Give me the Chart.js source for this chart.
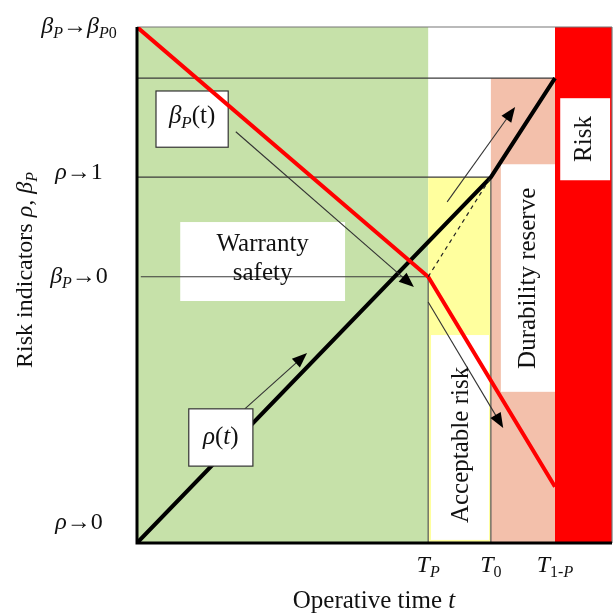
<!DOCTYPE html>
<html>
<head>
<meta charset="utf-8">
<script src="https://cdn.jsdelivr.net/npm/chart.js@4.4.0/dist/chart.umd.min.js"></script>
<style>
  html, body { margin: 0; padding: 0; background: #fff; }
  #wrap { width: 613px; height: 614px; }
</style>
</head>
<body>
<div id="wrap"><canvas id="chart" width="613" height="614"></canvas></div>
<script>
// time marks (x) and indicator levels (y), in axis units 0..100
const timeMarks = [61.3, 74.5, 88.0];          // T_P, T_0, T_1-P
const levelMarks = [0, 51.6, 70.9, 100];       // rho->0, beta->0, rho->1, beta->beta0
const reserveLevel = 90.1;

// rho(t) curve
const rhoTime = [0, 74.5, 88.0];
const rhoValue = [0, 70.9, 90.1];

// beta_P(t) curve
const betaTime = [0, 61.3, 88.0];
const betaValue = [100, 51.6, 10.9];

// dashed continuation of the beta/rho crossing
const dashTime = [61.3, 74.5];
const dashValue = [51.6, 70.9];

const SERIF = '"Liberation Serif", "DejaVu Serif", serif';

// text pieces: [text, style]  style: '' upright, 'i' italic, 's' sub, 'si' sub italic
function richWidth(ctx, parts, size) {
    let w = 0;
    parts.forEach(p => {
        const sub = p[1].indexOf('s') >= 0;
        const it = p[1].indexOf('i') >= 0;
        ctx.font = (it ? 'italic ' : '') + Math.round(sub ? size * 0.68 : size) + 'px ' + SERIF;
        w += ctx.measureText(p[0]).width;
    });
    return w;
}

function drawRich(ctx, parts, x, y, size, align) {
    const w = richWidth(ctx, parts, size);
    let cx = align === 'center' ? x - w / 2 : (align === 'right' ? x - w : x);
    ctx.textBaseline = 'middle';
    ctx.textAlign = 'left';
    ctx.fillStyle = '#111';
    parts.forEach(p => {
        const sub = p[1].indexOf('s') >= 0;
        const it = p[1].indexOf('i') >= 0;
        ctx.font = (it ? 'italic ' : '') + Math.round(sub ? size * 0.68 : size) + 'px ' + SERIF;
        ctx.fillText(p[0], cx, sub ? y + size * 0.3 : y);
        cx += ctx.measureText(p[0]).width;
    });
}

const yLabels = [
    [['ρ', 'i'], ['→0', '']],
    [['β', 'i'], ['P', 'si'], ['→0', '']],
    [['ρ', 'i'], ['→1', '']],
    [['β', 'i'], ['P', 'si'], ['→', ''], ['β', 'i'], ['P', 'si'], ['0', 's']]
];
const yLabelShift = [-20, 0, -4, 0];
const xLabels = [
    [['T', 'i'], ['P', 'si']],
    [['T', 'i'], ['0', 's']],
    [['T', 'i'], ['1-', 's'], ['P', 'si']]
];

const schemePlugin = {
    id: 'scheme',
    beforeDatasetsDraw(chart) {
        const ctx = chart.ctx;
        const xs = chart.scales.x, ys = chart.scales.y;
        const X = v => xs.getPixelForValue(v);
        const Y = v => ys.getPixelForValue(v);
        const [tP, t0, t1] = timeMarks;
        const [, bZero, rOne, top] = levelMarks;

        function rect(x1, x2, y1, y2, color) {
            ctx.fillStyle = color;
            ctx.fillRect(X(x1), Y(y2), X(x2) - X(x1), Y(y1) - Y(y2));
        }
        function line(x1, y1, x2, y2, color, w) {
            ctx.strokeStyle = color;
            ctx.lineWidth = w;
            ctx.beginPath();
            ctx.moveTo(X(x1), Y(y1));
            ctx.lineTo(X(x2), Y(y2));
            ctx.stroke();
        }

        ctx.save();
        // zones
        rect(0, tP, 0, top, '#c6e1a9');
        rect(tP, t0, 0, rOne, '#ffff9e');
        rect(t0, t1, 0, reserveLevel, '#f3c0ab');
        rect(t1, 100, 0, top, '#ff0000');

        // white label panels
        rect(61.9, 74.1, 0.6, 40.3, '#ffffff');
        rect(76.6, t1, 29.3, 73.4, '#ffffff');
        rect(89.1, 99.6, 70.3, 86.2, '#ffffff');
        rect(9.1, 43.8, 46.9, 62.2, '#ffffff');

        // reference lines
        line(0, reserveLevel, t1, reserveLevel, '#3a3a3a', 1.2);
        line(0, rOne, t0, rOne, '#3a3a3a', 1.2);
        line(0.8, bZero, tP, bZero, '#3a3a3a', 1.2);
        line(tP, 0, tP, bZero, '#555', 1.2);
        line(t0, 0, t0, rOne, '#555', 1.2);
        line(0, top, 100, top, '#777', 1.2);
        line(100, 0, 100, top, '#777', 1.2);

        // beta_P(t) label box (below the red line)
        ctx.fillStyle = '#fff';
        ctx.fillRect(X(4.0), Y(87.6), X(19.2) - X(4.0), Y(76.7) - Y(87.6));
        ctx.strokeStyle = '#333';
        ctx.lineWidth = 1.2;
        ctx.strokeRect(X(4.0), Y(87.6), X(19.2) - X(4.0), Y(76.7) - Y(87.6));
        ctx.restore();
    },
    afterDatasetsDraw(chart) {
        const ctx = chart.ctx;
        const xs = chart.scales.x, ys = chart.scales.y;
        const X = v => xs.getPixelForValue(v);
        const Y = v => ys.getPixelForValue(v);
        const area = chart.chartArea;

        function arrow(x1, y1, x2, y2) {
            const ax = X(x1), ay = Y(y1), bx = X(x2), by = Y(y2);
            const ang = Math.atan2(by - ay, bx - ax);
            const L = 15, H = 6;
            ctx.strokeStyle = '#333';
            ctx.lineWidth = 1.1;
            ctx.beginPath();
            ctx.moveTo(ax, ay);
            ctx.lineTo(bx - L * 0.8 * Math.cos(ang), by - L * 0.8 * Math.sin(ang));
            ctx.stroke();
            ctx.fillStyle = '#000';
            ctx.beginPath();
            ctx.moveTo(bx, by);
            ctx.lineTo(bx - L * Math.cos(ang) + H * Math.sin(ang), by - L * Math.sin(ang) - H * Math.cos(ang));
            ctx.lineTo(bx - L * Math.cos(ang) - H * Math.sin(ang), by - L * Math.sin(ang) + H * Math.cos(ang));
            ctx.closePath();
            ctx.fill();
        }

        ctx.save();
        arrow(22.7, 26.0, 35.8, 36.8);
        arrow(20.8, 79.7, 58.3, 49.6);
        arrow(65.3, 66.1, 79.6, 84.5);
        arrow(61.3, 46.7, 77.1, 22.3);

        // rho(t) label box (above the black line)
        ctx.fillStyle = '#fff';
        ctx.fillRect(X(10.9), Y(26.0), X(24.4) - X(10.9), Y(14.9) - Y(26.0));
        ctx.strokeStyle = '#333';
        ctx.lineWidth = 1.2;
        ctx.strokeRect(X(10.9), Y(26.0), X(24.4) - X(10.9), Y(14.9) - Y(26.0));

        // axes
        ctx.strokeStyle = '#000';
        ctx.lineWidth = 3;
        ctx.beginPath();
        ctx.moveTo(area.left, area.top);
        ctx.lineTo(area.left, area.bottom);
        ctx.lineTo(area.right, area.bottom);
        ctx.stroke();

        // labels inside the plot
        drawRich(ctx, [['β', 'i'], ['P', 'si'], ['(t)', '']], (X(4.0) + X(19.2)) / 2, (Y(87.6) + Y(76.7)) / 2 - 3, 25, 'center');
        drawRich(ctx, [['ρ', 'i'], ['(', ''], ['t', 'i'], [')', '']], (X(10.9) + X(24.4)) / 2, (Y(26.0) + Y(14.9)) / 2, 25, 'center');
        drawRich(ctx, [['Warranty', '']], (X(9.1) + X(43.8)) / 2, Y(57.9), 25, 'center');
        drawRich(ctx, [['safety', '']], (X(9.1) + X(43.8)) / 2, Y(52.3), 25, 'center');

        function vtext(text, cx, cy, size) {
            ctx.save();
            ctx.translate(cx, cy);
            ctx.rotate(-Math.PI / 2);
            drawRich(ctx, text, 0, 0, size, 'center');
            ctx.restore();
        }
        vtext([['Acceptable risk', '']], X(68.2), Y(19.0), 25);
        vtext([['Durability reserve', '']], X(82.4), Y(51.3), 25);
        vtext([['Risk', '']], X(94.3), Y(78.3), 25);

        // tick labels
        levelMarks.forEach((v, i) => {
            drawRich(ctx, yLabels[i], 79, Y(v) + yLabelShift[i], 24, 'center');
        });
        timeMarks.forEach((v, i) => {
            drawRich(ctx, xLabels[i], X(v), 566, 24, 'center');
        });

        // axis titles
        drawRich(ctx, [['Operative time ', ''], ['t', 'i']], 374, 601, 25, 'center');
        ctx.save();
        ctx.translate(26, 270);
        ctx.rotate(-Math.PI / 2);
        drawRich(ctx, [['Risk indicators ', ''], ['ρ', 'i'], [', ', ''], ['β', 'i'], ['P', 'si']], 0, 0, 24, 'center');
        ctx.restore();
        ctx.restore();
    }
};

const toPoints = (xs, ys) => xs.map((x, i) => ({ x: x, y: ys[i] }));

new Chart(document.getElementById('chart'), {
    type: 'scatter',
    data: {
        datasets: [
            {
                label: 'dash',
                data: toPoints(dashTime, dashValue),
                showLine: true,
                borderColor: '#222',
                borderWidth: 1.2,
                borderDash: [4, 4],
                pointRadius: 0
            },
            {
                label: 'beta',
                data: toPoints(betaTime, betaValue),
                showLine: true,
                borderColor: '#ff0000',
                borderWidth: 4,
                pointRadius: 0
            },
            {
                label: 'rho',
                data: toPoints(rhoTime, rhoValue),
                showLine: true,
                borderColor: '#000',
                borderWidth: 4,
                pointRadius: 0
            }
        ]
    },
    options: {
        responsive: false,
        animation: false,
        layout: { padding: { left: 137, right: 1, top: 27, bottom: 71 } },
        scales: {
            x: { type: 'linear', min: 0, max: 100, display: false },
            y: { type: 'linear', min: 0, max: 100, display: false }
        },
        plugins: {
            legend: { display: false },
            tooltip: { enabled: false }
        }
    },
    plugins: [schemePlugin]
});
</script>
</body>
</html>
